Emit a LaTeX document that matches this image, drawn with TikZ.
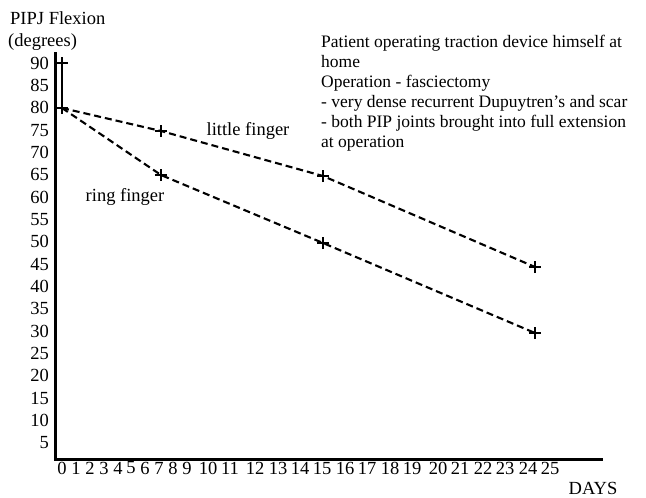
\documentclass[tikz,border=0pt]{standalone}
\usepackage{fontspec}
\setmainfont{Liberation Serif}
\usepackage{tikz}
\usetikzlibrary{shapes.misc}
\tikzset{
  axisline/.style={line width=3pt,draw=black},
  ylab/.style={anchor=east,inner sep=0pt},
  xlab/.style={inner sep=0pt},
  plusmark/.style={draw,cross out,rotate=45,minimum size=7.5pt,inner sep=0pt,line width=1.1pt},
  trend/.style={dash pattern=on 7pt off 4pt,line width=2.1pt},
  note/.style={align=left,anchor=north west,inner sep=0pt,font=\fontsize{17.5}{20}\selectfont}
}
\begin{document}
\begin{tikzpicture}[x=1pt,y=-1pt,font=\fontsize{18.5}{21}\selectfont]
  \useasboundingbox (0,0) rectangle (646,498);
  % axes
  \draw[axisline] (55,52) -- (55,459) -- (603,459);
  \node[anchor=west,inner sep=0pt] (ytitle) at (10,18) {PIPJ Flexion};
  \node[anchor=west,inner sep=0pt] (yunit) at (8,42) {(degrees)};
  \foreach \v in {5,10,...,90}
    \node[ylab] (y\v) at (49,{63+(90-\v)*4.47}) {\v};
  \foreach \d/\x in {0/62,1/76,2/90,3/104,4/118,5/131,6/145,7/159,8/173,9/187,
      10/208,11/230,12/255,13/278,14/300,15/322,16/345,17/367,18/390,19/412,
      20/438,21/460,22/483,23/505,24/528,25/550}
    \node[xlab] (d\d) at (\x,468) {\d};
  \node[inner sep=0pt] (days) at (593,488) {DAYS};
  % data points
  \node[plusmark] (s0) at (62,63) {};
  \node[plusmark] (s80) at (62,108) {};
  \node[plusmark] (l7) at (161,131) {};
  \node[plusmark] (l15) at (323,176) {};
  \node[plusmark] (l24) at (535,267) {};
  \node[plusmark] (r7) at (161,175) {};
  \node[plusmark] (r15) at (323,243) {};
  \node[plusmark] (r24) at (535,333) {};
  \draw[line width=1.4pt] (s0.center) -- (s80.center);
  \draw[trend] (s80.center) -- (l7.center) -- (l15.center) -- (l24.center);
  \draw[trend] (s80.center) -- (r7.center) -- (r15.center) -- (r24.center);
  \node (little) at (248,131) {little finger};
  \node (ring) at (125,197) {ring finger};
  % notes
  \node[note] (notes) at (321,35) {Patient operating traction device himself at\\
    home\\
    Operation - fasciectomy\\
    - very dense recurrent Dupuytren's and scar\\
    - both PIP joints brought into full extension\\
    at operation};
\end{tikzpicture}
\end{document}
